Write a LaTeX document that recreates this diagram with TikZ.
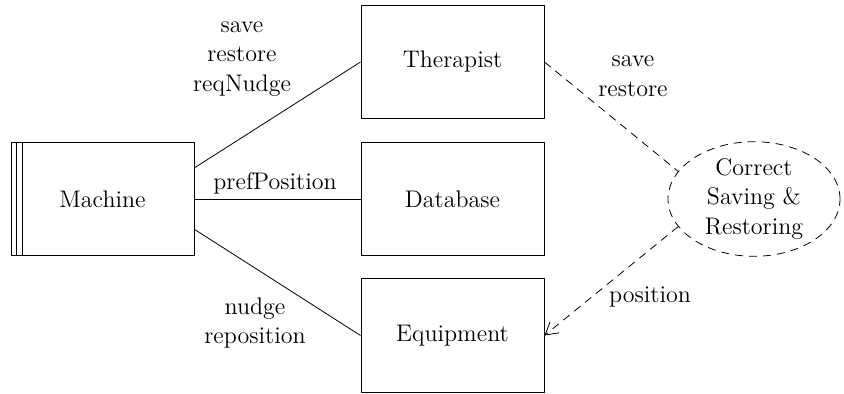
\documentclass[tikz,border=0pt]{standalone}
\usetikzlibrary{arrows.meta,shapes.geometric}
\tikzset{
  box/.style={draw, line width=0.5pt, minimum width=91.5pt, minimum height=56.5pt, inner sep=0pt},
  goal/.style={draw, ellipse, dash pattern=on 4pt off 3pt, minimum width=86pt, minimum height=56pt, inner sep=0pt, align=center},
  lbl/.style={align=center}
}
\begin{document}
\begin{tikzpicture}[x=0.5pt, y=-0.5pt, font=\fontsize{12}{14.8}\selectfont, line join=round, >={Straight Barb[length=6pt,width=7pt]}]
  \useasboundingbox (0,0) rectangle (844,394);
  \node (mach) at (102.5,199.5) [box] {Machine};
  \draw ([xshift=3pt]mach.north west) -- ([xshift=3pt]mach.south west);
  \draw ([xshift=6pt]mach.north west) -- ([xshift=6pt]mach.south west);
  \node (ther) at (452.5,62) [box] {Therapist};
  \node (data) at (452.5,199.5) [box] {Database};
  \node (equip) at (452.5,335.5) [box] {Equipment};
  \node (req) at (754,199) [goal] {Correct\\Saving \&\\Restoring};
  \draw (mach.19) -- (ther.west);
  \draw (mach.east) -- (data.west);
  \draw (mach.-18) -- (equip.west);
  \draw[dash pattern=on 4pt off 3pt] (ther.east) -- (req.160);
  \draw[dash pattern=on 4pt off 3pt, ->] (req.200) -- (equip.east);
  \node (l1) at (242,59) [lbl] {save\\restore\\reqNudge};
  \node (l2) at (275,183) [lbl] {prefPosition};
  \node (l3) at (255,323) [lbl] {nudge\\reposition};
  \node (l4) at (633,76) [lbl] {save\\restore};
  \node (l5) at (650,297) [lbl] {position};
\end{tikzpicture}
\end{document}
